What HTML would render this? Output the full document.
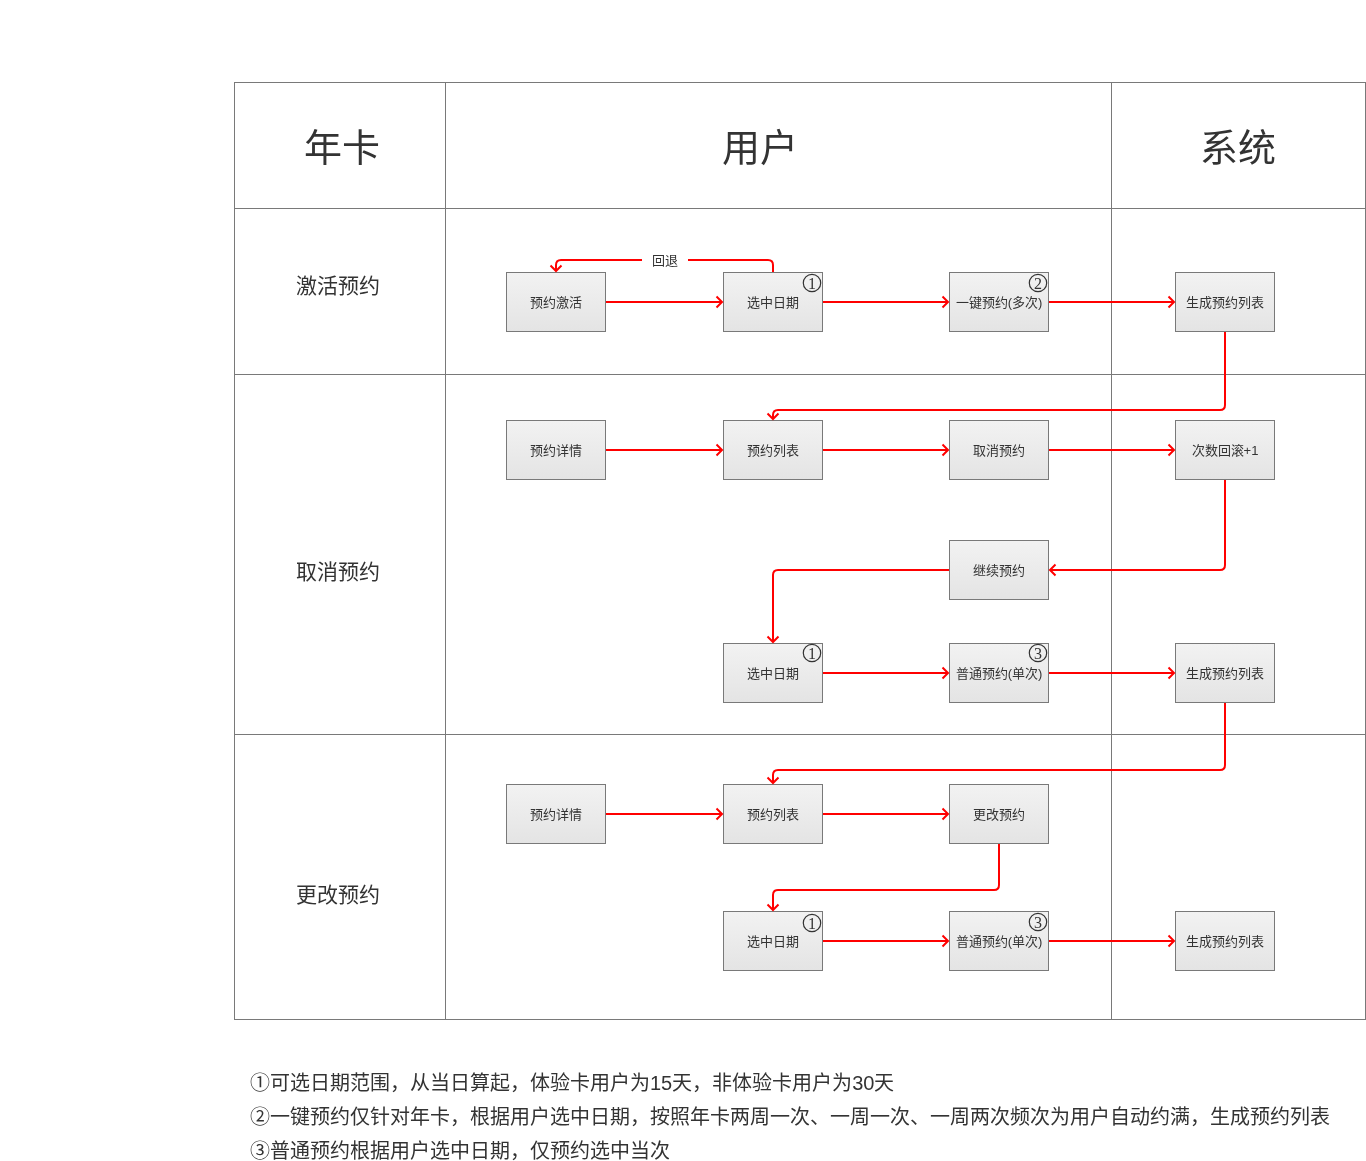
<!DOCTYPE html>
<html lang="zh-CN">
<head>
<meta charset="utf-8">
<title>年卡预约流程</title>
<style>
html,body{margin:0;padding:0;}
html{width:1366px;height:1161px;overflow:hidden;}
body{width:1366px;height:1161px;position:relative;overflow:hidden;background:#fff;
  font-family:"Liberation Sans",sans-serif;color:#333;}
#root{position:absolute;left:0;top:0;width:1366px;height:1161px;overflow:hidden;will-change:transform;}
/* swimlane grid */
.frame{position:absolute;left:234px;top:82px;width:1132px;height:938px;box-sizing:border-box;border:1px solid #797979;}
.hl{position:absolute;left:234px;width:1132px;height:1px;background:#797979;}
.vl{position:absolute;top:82px;height:938px;width:1px;background:#797979;}
/* lane titles */
.h1{position:absolute;top:123px;height:50px;line-height:50px;width:120px;font-size:38px;text-align:center;white-space:nowrap;}
.h2{position:absolute;left:278px;width:120px;height:28px;line-height:28px;font-size:21px;text-align:center;white-space:nowrap;}
/* flow boxes */
.b{position:absolute;width:100px;height:60px;box-sizing:border-box;border:1px solid #797979;
  background:linear-gradient(180deg,#f2f2f2 0%,#e4e4e4 100%);
  font-size:13px;line-height:60px;text-align:center;white-space:nowrap;color:#333;}
/* circled numbers */
.c{position:absolute;width:18px;height:18px;
  font-family:"Liberation Serif",serif;font-size:16px;line-height:20px;text-align:center;color:#333;}
.lbl{position:absolute;left:642px;top:252px;width:46px;height:18px;line-height:18px;background:#fff;font-size:13px;text-align:center;white-space:nowrap;}
.note{position:absolute;left:250px;font-size:20px;height:34px;line-height:34px;white-space:nowrap;}
svg{position:absolute;left:0;top:0;}
</style>
</head>
<body>
<div id="root">
<div class="frame"></div>
<div class="hl" style="top:208px"></div>
<div class="hl" style="top:374px"></div>
<div class="hl" style="top:734px"></div>
<div class="vl" style="left:445px"></div>
<div class="vl" style="left:1111px"></div>

<div class="h1" style="left:282px">年卡</div>
<div class="h1" style="left:700px">用户</div>
<div class="h1" style="left:1178px">系统</div>

<div class="h2" style="top:272px">激活预约</div>
<div class="h2" style="top:558px">取消预约</div>
<div class="h2" style="top:881px">更改预约</div>

<!-- row 1 -->
<div class="b" style="left:506px;top:272px">预约激活</div>
<div class="b" style="left:723px;top:272px">选中日期</div>
<div class="b" style="left:949px;top:272px">一键预约(多次)</div>
<div class="b" style="left:1175px;top:272px">生成预约列表</div>
<!-- row 2 -->
<div class="b" style="left:506px;top:420px">预约详情</div>
<div class="b" style="left:723px;top:420px">预约列表</div>
<div class="b" style="left:949px;top:420px">取消预约</div>
<div class="b" style="left:1175px;top:420px">次数回滚+1</div>
<!-- row 3 -->
<div class="b" style="left:949px;top:540px">继续预约</div>
<!-- row 4 -->
<div class="b" style="left:723px;top:643px">选中日期</div>
<div class="b" style="left:949px;top:643px">普通预约(单次)</div>
<div class="b" style="left:1175px;top:643px">生成预约列表</div>
<!-- row 5 -->
<div class="b" style="left:506px;top:784px">预约详情</div>
<div class="b" style="left:723px;top:784px">预约列表</div>
<div class="b" style="left:949px;top:784px">更改预约</div>
<!-- row 6 -->
<div class="b" style="left:723px;top:911px">选中日期</div>
<div class="b" style="left:949px;top:911px">普通预约(单次)</div>
<div class="b" style="left:1175px;top:911px">生成预约列表</div>

<!-- circled markers -->
<svg width="1366" height="1161" viewBox="0 0 1366 1161" fill="none" stroke="#333" stroke-width="1.2">
  <circle cx="812" cy="283" r="8.7"/><circle cx="1038" cy="283" r="8.7"/>
  <circle cx="812" cy="653" r="8.7"/><circle cx="1038" cy="653" r="8.7"/>
  <circle cx="812" cy="923" r="8.7"/><circle cx="1038" cy="922" r="8.7"/>
</svg>
<div class="c" style="left:803px;top:274px">1</div>
<div class="c" style="left:1029px;top:274px">2</div>
<div class="c" style="left:803px;top:644px">1</div>
<div class="c" style="left:1029px;top:644px">3</div>
<div class="c" style="left:803px;top:914px">1</div>
<div class="c" style="left:1029px;top:913px">3</div>

<svg width="1366" height="1161" viewBox="0 0 1366 1161" fill="none" stroke="#ff0000" stroke-width="2">
  <!-- row 1 -->
  <path d="M606 302H722M716.5 296.5L722 302L716.5 307.5"/>
  <path d="M823 302H948M942.5 296.5L948 302L942.5 307.5"/>
  <path d="M1049 302H1174M1168.5 296.5L1174 302L1168.5 307.5"/>
  <path d="M773 272V265Q773 260 768 260H561Q556 260 556 265V271M550.5 265.5L556 271L561.5 265.5"/>
  <path d="M1225 332V405Q1225 410 1220 410H778Q773 410 773 415V419M767.5 413.5L773 419L778.5 413.5"/>
  <!-- row 2 -->
  <path d="M606 450H722M716.5 444.5L722 450L716.5 455.5"/>
  <path d="M823 450H948M942.5 444.5L948 450L942.5 455.5"/>
  <path d="M1049 450H1174M1168.5 444.5L1174 450L1168.5 455.5"/>
  <path d="M1225 480V565Q1225 570 1220 570H1050M1055.5 564.5L1050 570L1055.5 575.5"/>
  <path d="M949 570H778Q773 570 773 575V642M767.5 636.5L773 642L778.5 636.5"/>
  <!-- row 4 -->
  <path d="M823 673H948M942.5 667.5L948 673L942.5 678.5"/>
  <path d="M1049 673H1174M1168.5 667.5L1174 673L1168.5 678.5"/>
  <path d="M1225 703V765Q1225 770 1220 770H778Q773 770 773 775V783M767.5 777.5L773 783L778.5 777.5"/>
  <!-- row 5 -->
  <path d="M606 814H722M716.5 808.5L722 814L716.5 819.5"/>
  <path d="M823 814H948M942.5 808.5L948 814L942.5 819.5"/>
  <path d="M999 844V885Q999 890 994 890H778Q773 890 773 895V910M767.5 904.5L773 910L778.5 904.5"/>
  <!-- row 6 -->
  <path d="M823 941H948M942.5 935.5L948 941L942.5 946.5"/>
  <path d="M1049 941H1174M1168.5 935.5L1174 941L1168.5 946.5"/>
</svg>
<div class="lbl">回退</div>

<div class="note" style="top:1066px">①可选日期范围，从当日算起，体验卡用户为15天，非体验卡用户为30天</div>
<div class="note" style="top:1100px">②一键预约仅针对年卡，根据用户选中日期，按照年卡两周一次、一周一次、一周两次频次为用户自动约满，生成预约列表</div>
<div class="note" style="top:1134px">③普通预约根据用户选中日期，仅预约选中当次</div>
</div>
</body>
</html>
